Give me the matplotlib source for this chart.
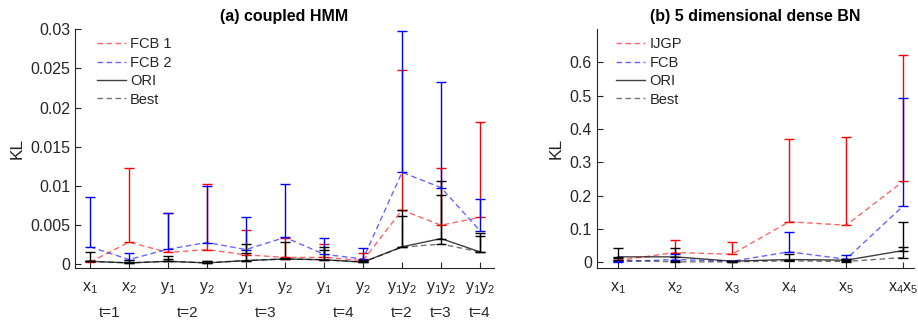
import numpy as np
import matplotlib.pyplot as plt
import matplotlib.transforms as mtrans

plt.rcParams['font.family'] = ['Liberation Sans', 'DejaVu Sans']
plt.rcParams['mathtext.fontset'] = 'custom'
plt.rcParams['mathtext.rm'] = 'Liberation Sans'
plt.rcParams['mathtext.it'] = 'Liberation Sans:italic'

# ---- (a) coupled HMM ----
labels_a = [r'$\mathrm{x}_1$', r'$\mathrm{x}_2$', r'$\mathrm{y}_1$', r'$\mathrm{y}_2$',
            r'$\mathrm{y}_1$', r'$\mathrm{y}_2$', r'$\mathrm{y}_1$', r'$\mathrm{y}_2$',
            r'$\mathrm{y}_1\mathrm{y}_2$', r'$\mathrm{y}_1\mathrm{y}_2$', r'$\mathrm{y}_1\mathrm{y}_2$']
groups_a = ['t=1', 't=2', 't=3', 't=4', 't=2', 't=3', 't=4']
group_pos_a = [1.5, 3.5, 5.5, 7.5, 9, 10, 11]

fcb1 = [0.0003, 0.00285, 0.00153, 0.0019, 0.00123, 0.0009, 0.0009, 0.0005, 0.00693, 0.0050, 0.0060]
fcb1_up = [0.0005, 0.01225, 0.0066, 0.0103, 0.00434, 0.0034, 0.00255, 0.0014, 0.0248, 0.0123, 0.0181]
fcb2 = [0.00225, 0.00063, 0.00195, 0.0028, 0.0019, 0.00345, 0.0013, 0.0007, 0.01174, 0.0098, 0.0043]
fcb2_up = [0.00855, 0.00144, 0.0065, 0.00996, 0.0061, 0.0102, 0.0034, 0.0021, 0.0297, 0.0232, 0.0083]
ori_a = [0.0004, 0.0002, 0.0004, 0.0002, 0.0005, 0.0007, 0.0006, 0.0003, 0.00225, 0.0033, 0.0016]
ori_a_up = [0.0016, 0.0006, 0.0011, 0.0005, 0.00255, 0.0029, 0.0022, 0.0006, 0.0070, 0.0107, 0.0040]
best_a = [0.0004, 0.0002, 0.0004, 0.0002, 0.0005, 0.0007, 0.0006, 0.0003, 0.0022, 0.0026, 0.0016]
best_a_up = [0.0005, 0.0003, 0.0007, 0.0004, 0.0015, 0.0008, 0.0018, 0.0004, 0.0062, 0.0088, 0.0036]

# ---- (b) 5 dimensional dense BN ----
labels_b = [r'$\mathrm{x}_1$', r'$\mathrm{x}_2$', r'$\mathrm{x}_3$', r'$\mathrm{x}_4$',
            r'$\mathrm{x}_5$', r'$\mathrm{x}_4\mathrm{x}_5$']
ijgp = [0.005, 0.029, 0.024, 0.1215, 0.111, 0.243]
ijgp_up = [0.008, 0.068, 0.061, 0.370, 0.376, 0.623]
fcb = [0.001, 0.008, 0.003, 0.031, 0.009, 0.169]
fcb_up = [0.003, 0.024, 0.004, 0.0895, 0.023, 0.4935]
ori_b = [0.016, 0.016, 0.003, 0.008, 0.006, 0.035]
ori_b_up = [0.043, 0.043, 0.004, 0.024, 0.009, 0.1215]
best_b = [0.006, 0.001, 0.001, 0.004, 0.002, 0.014]
best_b_up = [0.014, 0.003, 0.002, 0.008, 0.005, 0.046]

axc = '#262626'
dash = (0, (4, 2.5))


def panel(ax, labels, series, ylim, yticks, ytl, title, xlim):
    x = np.arange(1, len(labels) + 1)
    for mean, up, lc, ec, ls, alpha, name in series:
        mean = np.array(mean)
        up = np.array(up)
        ax.errorbar(x, mean, yerr=[np.zeros_like(mean), up - mean], fmt='none',
                    ecolor=ec, elinewidth=1.0, capsize=3.5, capthick=1.0, zorder=2)
    for mean, up, lc, ec, ls, alpha, name in series:
        ax.plot(x, mean, color=lc, linestyle=ls, lw=1, alpha=alpha, label=name, zorder=3)
    ax.set_xlim(*xlim)
    ax.set_ylim(*ylim)
    ax.set_yticks(yticks)
    ax.set_yticklabels(ytl)
    ax.set_xticks(x)
    ax.set_xticklabels(labels)
    ax.tick_params(direction='in', colors=axc, labelsize=11.5, length=4)
    ax.tick_params(axis='x', pad=9)
    for s in ['top', 'right']:
        ax.spines[s].set_visible(False)
    for s in ['left', 'bottom']:
        ax.spines[s].set_color(axc)
    ax.set_ylabel('KL', fontsize=12.5, color=axc)
    ax.set_title(title, fontsize=11.5, fontweight='bold', pad=6)
    ax.legend(loc='upper left', bbox_to_anchor=(0.02, 1.02), frameon=False,
              fontsize=10.5, handlelength=2.0, handletextpad=0.3, labelspacing=0.3,
              labelcolor=axc)


fig = plt.figure(figsize=(9.18, 3.2), dpi=100)
ax1 = fig.add_axes([0.0817, 0.163, 0.4565, 0.746])
ax2 = fig.add_axes([0.650, 0.163, 0.3457, 0.746])

panel(ax1, labels_a,
      [(fcb1, fcb1_up, 'red', 'red', dash, 0.6, 'FCB 1'),
       (fcb2, fcb2_up, 'blue', 'blue', dash, 0.6, 'FCB 2'),
       (ori_a, ori_a_up, 'black', 'black', '-', 0.75, 'ORI'),
       (best_a, best_a_up, 'black', 'black', dash, 0.55, 'Best')],
      (-0.00043, 0.03), [0, 0.005, 0.01, 0.015, 0.02, 0.025, 0.03],
      ['0', '0.005', '0.01', '0.015', '0.02', '0.025', '0.03'],
      '(a) coupled HMM', (0.615, 11.36))

panel(ax2, labels_b,
      [(ijgp, ijgp_up, 'red', 'red', dash, 0.6, 'IJGP'),
       (fcb, fcb_up, 'blue', 'blue', dash, 0.6, 'FCB'),
       (ori_b, ori_b_up, 'black', 'black', '-', 0.75, 'ORI'),
       (best_b, best_b_up, 'black', 'black', dash, 0.55, 'Best')],
      (-0.017, 0.7), [0, 0.1, 0.2, 0.3, 0.4, 0.5, 0.6],
      ['0', '0.1', '0.2', '0.3', '0.4', '0.5', '0.6'],
      '(b) 5 dimensional dense BN', (0.63, 6.19))

tr = mtrans.blended_transform_factory(ax1.transData, ax1.transAxes)
for g, p in zip(groups_a, group_pos_a):
    ax1.text(p, -0.19, g, transform=tr, ha='center', va='center', fontsize=11, color=axc)

fig.savefig('out.png', dpi=100)
